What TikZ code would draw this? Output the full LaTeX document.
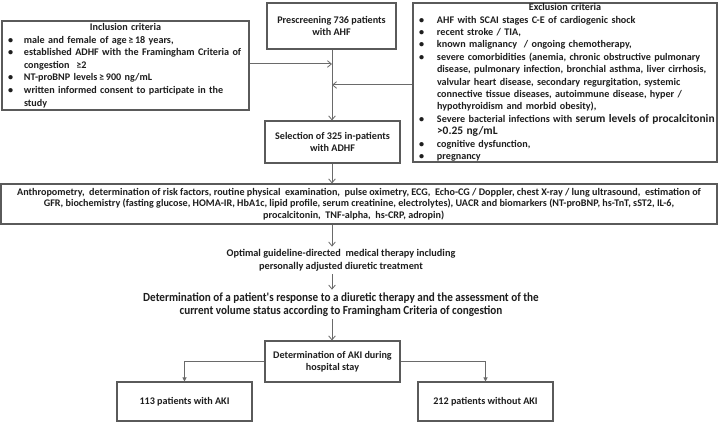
\documentclass[tikz,border=0pt]{standalone}
\usepackage{fontspec}
\setmainfont{Carlito}
\newfontfamily\condfont[FakeStretch=0.9]{Carlito}
\usetikzlibrary{arrows.meta}
\definecolor{txtcol}{HTML}{1E1E1E}
\definecolor{boxcol}{HTML}{5A5A5A}
\definecolor{linecol}{HTML}{6A6A6A}
\newcommand\mytxt{\fontsize{7.6}{9.3}\selectfont\bfseries}
\newcommand\mybig{\fontsize{8.6}{9.3}\selectfont\bfseries}
\newcommand\detfont{\condfont\fontsize{9.3}{9.75}\selectfont\bfseries}
\newcommand\bul[1]{\mbox{\makebox[12pt][l]{•}#1}}
\newcommand\ind[1]{\mbox{\hspace*{12pt}#1}}
\newcommand\bulx[1]{\mbox{\makebox[13.5pt][l]{•}#1}}
\newcommand\indx[1]{\mbox{\hspace*{13.5pt}#1}}
\newcommand\mygeq{\,≥\,}
\begin{document}
\begin{tikzpicture}[x=0.75pt,y=-0.75pt,
  box/.style={draw=boxcol, line width=0.8pt, inner sep=0pt, font=\mytxt, text=txtcol, align=center},
  listbox/.style={box, align=left},
  plain/.style={inner sep=2pt, text=txtcol, align=center},
  arr/.style={draw=linecol, line width=0.75pt, -{Straight Barb[length=3pt,width=5pt,line width=0.6pt]}},
  arrb/.style={draw=linecol, line width=0.75pt, -{Triangle[length=3pt,width=3pt]}}]
\useasboundingbox (0,0) rectangle (722,423);
\fill[white] (0,0) rectangle (722,423);

\node[listbox, minimum width=185.25pt, minimum height=66.75pt, text width=176.25pt, inner xsep=4.5pt, font=\fontsize{7.6}{9.45}\selectfont\bfseries] (incl) at (125.5,65.5) {%
\makebox[\linewidth]{Inclusion criteria}\\
\bul{male and female of age\mygeq 18 years,}\\
\bul{established ADHF with the Framingham Criteria of}\\
\ind{congestion\ \ ≥2}\\
\bul{NT-proBNP levels\mygeq 900 ng/mL}\\
\bul{written informed consent to participate in the}\\
\ind{study}};

\node[box, minimum width=96.75pt, minimum height=34.5pt] (pre) at (331.5,26) {Prescreening 736 patients\\with AHF};

\node[listbox, minimum width=228pt, minimum height=119.25pt, text width=219pt, inner xsep=4.5pt] (excl) at (565,82.5) {%
\makebox[\linewidth]{Exclusion criteria}\\
\bulx{AHF with SCAI stages C-E of cardiogenic shock}\\
\bulx{recent stroke / TIA,}\\
\bulx{known malignancy\ \ / ongoing chemotherapy,}\\
\bulx{severe comorbidities (anemia, chronic obstructive pulmonary}\\
\indx{disease, pulmonary infection, bronchial asthma, liver cirrhosis,}\\
\indx{valvular heart disease, secondary regurgitation, systemic}\\
\indx{connective tissue diseases, autoimmune disease, hyper /}\\
\indx{hypothyroidism and morbid obesity),}\\
\bulx{Severe bacterial infections with {\mybig serum levels of procalcitonin}}\\
\indx{{\mybig >0.25 ng/mL}}\\
\bulx{cognitive dysfunction,}\\
\bulx{pregnancy}};

\node[box, minimum width=101.25pt, minimum height=31.5pt] (sel) at (332.5,142) {Selection of 325 in-patients\\with ADHF};

\node[box, minimum width=537pt, minimum height=30pt, font=\fontsize{7.6}{8.7}\selectfont\bfseries] (big) at (359,204) {%
Anthropometry,\ \ determination of risk factors, routine physical\ \ examination,\ \ pulse oximetry, ECG,\ \ Echo-CG / Doppler, chest X-ray / lung ultrasound,\ \ estimation of\\
GFR, biochemistry (fasting glucose, HOMA-IR, HbA1c, lipid profile, serum creatinine, electrolytes), UACR and biomarkers (NT-proBNP,\ hs-TnT,\ sST2, IL-6,\\
procalcitonin,\ \ TNF-alpha,\ \ hs-CRP, adropin)\hspace*{8pt}};

\node[plain, font=\fontsize{7.7}{9.75}\selectfont\bfseries] (opt) at (341,260.5) {Optimal guideline-directed\ \ medical therapy including\\personally adjusted diuretic treatment};

\node[plain, font=\detfont] (det) at (341,304.5) {Determination of a patient's response to a diuretic therapy and the assessment of the\\current volume status according to Framingham Criteria of congestion};

\node[box, minimum width=101.25pt, minimum height=30.75pt] (aki) at (332.5,361.5) {Determination of AKI during\\hospital stay};

\node[box, minimum width=101.25pt, minimum height=29.25pt] (withaki) at (184.5,401.5) {113 patients with AKI};
\node[box, minimum width=101.25pt, minimum height=29.25pt] (noaki) at (485.5,401.5) {212 patients without AKI};

\coordinate (sp) at (332,0);
\coordinate (j1) at (332,64);
\coordinate (j2) at (332,85);
\draw[draw=linecol, line width=0.75pt] (pre.south -| sp) -- (j1);
\draw[arr] (j1) -- (sel.north -| sp);
\draw[arr] (incl.east |- j1) -- (j1);
\draw[arr] (excl.west |- j2) -- (j2);
\draw[arr] (sel.south -| sp) -- (big.north -| sp);
\draw[arr] (big.south -| sp) -- (opt.north -| sp);
\draw[arr] (opt.south -| sp) -- (det.north -| sp);
\draw[arr] (det.south -| sp) -- (aki.north -| sp);
\draw[arrb] (aki.west) -| (withaki.north);
\draw[arrb] (aki.east) -| (noaki.north);
\end{tikzpicture}
\end{document}
